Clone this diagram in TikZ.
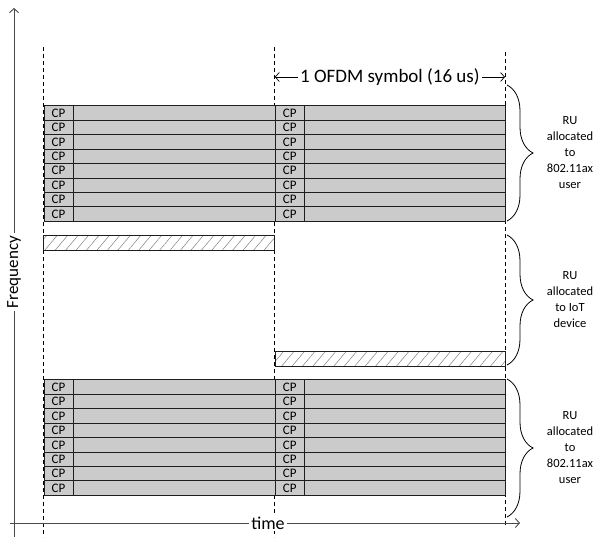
\documentclass[tikz,border=0pt]{standalone}
\usepackage{fontspec}
\setmainfont{Carlito}
\usetikzlibrary{positioning,arrows.meta,patterns.meta,decorations.pathreplacing}
\definecolor{dotgray}{HTML}{CBCBCB}
\definecolor{edge}{HTML}{1E1E1E}
\definecolor{axisgray}{HTML}{4A4A4A}

\tikzset{
  symrow/.style={draw=edge,line width=1pt,fill=dotgray,minimum width=231pt,minimum height=14.45pt,inner sep=0pt,anchor=north west},
  cpcell/.style={draw=edge,line width=1pt,fill=dotgray,minimum width=29pt,minimum height=14.45pt,inner sep=0pt,anchor=north west,font=\fontsize{13}{13}\selectfont},
  iotbar/.style={draw=edge,line width=1pt,pattern={Lines[angle=50,distance=8pt,line width=0.5pt]},pattern color=gray,minimum width=231pt,minimum height=15pt,inner sep=0pt,anchor=north west},
  guide/.style={dash pattern=on 4pt off 3pt,line width=0.7pt},
  axis/.style={draw=axisgray,line width=0.9pt,-{Straight Barb[length=4pt,width=9pt]}},
  rubrace/.style={decorate,decoration={brace,amplitude=26pt},line width=0.8pt},
  rulabel/.style={align=center,font=\fontsize{12.5}{16}\selectfont,inner sep=1pt}
}

\begin{document}
\begin{tikzpicture}[x=1pt,y=-1pt]
\useasboundingbox (0,0) rectangle (594,540);

% symbol boundaries
\draw[guide] (43.5,47) -- (43.5,537);
\draw[guide] (274.8,47) -- (274.8,537);
\draw[guide] (505,52) -- (505,527);

% RUs of the 802.11ax users
\foreach \blk/\ytop in {A/105.3,C/379.3}{
  \foreach \i in {0,...,7}{
    \node[symrow] (sym\blk L\i) at ({43.5},{\ytop+\i*14.45}) {};
    \node[symrow,minimum width=230.2pt] (sym\blk R\i) at ({274.8},{\ytop+\i*14.45}) {};
    \node[cpcell] (cp\blk L\i) at (sym\blk L\i.north west) {CP};
    \node[cpcell] (cp\blk R\i) at (sym\blk R\i.north west) {CP};
  }
}

% RU of the IoT device
\node[iotbar] (iotL) at (43.5,235) {};
\node[iotbar,minimum width=230.2pt] (iotR) at (274.8,350.7) {};

% symbol length
\coordinate (symS) at (274.8,77);
\coordinate (symE) at (505,77);
\draw[<->,>={Straight Barb[length=4pt,width=9pt]},line width=0.7pt] (symS) -- (symE)
  node[midway,fill=white,inner sep=2pt,font=\fontsize{19}{19}\selectfont] (symlen) {1 OFDM symbol (16 us)};

% braces
\coordinate (brA1) at (507,85);  \coordinate (brA2) at (507,221);
\coordinate (brB1) at (507,235); \coordinate (brB2) at (507,365);
\coordinate (brC1) at (507,379); \coordinate (brC2) at (507,517);
\draw[rubrace] (brA1) -- (brA2) coordinate[pos=0.5] (midA);
\draw[rubrace] (brB1) -- (brB2) coordinate[pos=0.5] (midB);
\draw[rubrace] (brC1) -- (brC2) coordinate[pos=0.5] (midC);
\node[rulabel,anchor=center] (ruA) at ([xshift=63pt]midA) {RU\\allocated\\to\\802.11ax\\user};
\node[rulabel,anchor=center] (ruB) at ([xshift=63pt]midB) {RU\\allocated\\to IoT\\device};
\node[rulabel,anchor=center] (ruC) at ([xshift=63pt]midC) {RU\\allocated\\to\\802.11ax\\user};

% axes
\coordinate (fbot) at (14,537);
\coordinate (ftop) at (14,8);
\coordinate (tleft) at (10,523);
\coordinate (tright) at (520,523);
\draw[axis] (fbot) -- (ftop);
\draw[axis] (tleft) -- (tright);
\node[fill=white,rotate=90,inner sep=3pt,font=\fontsize{17}{17}\selectfont] (freq) at (14,272) {Frequency};
\node[fill=white,inner sep=2pt,font=\fontsize{18}{18}\selectfont] (time) at (268,523) {time};
\end{tikzpicture}
\end{document}
